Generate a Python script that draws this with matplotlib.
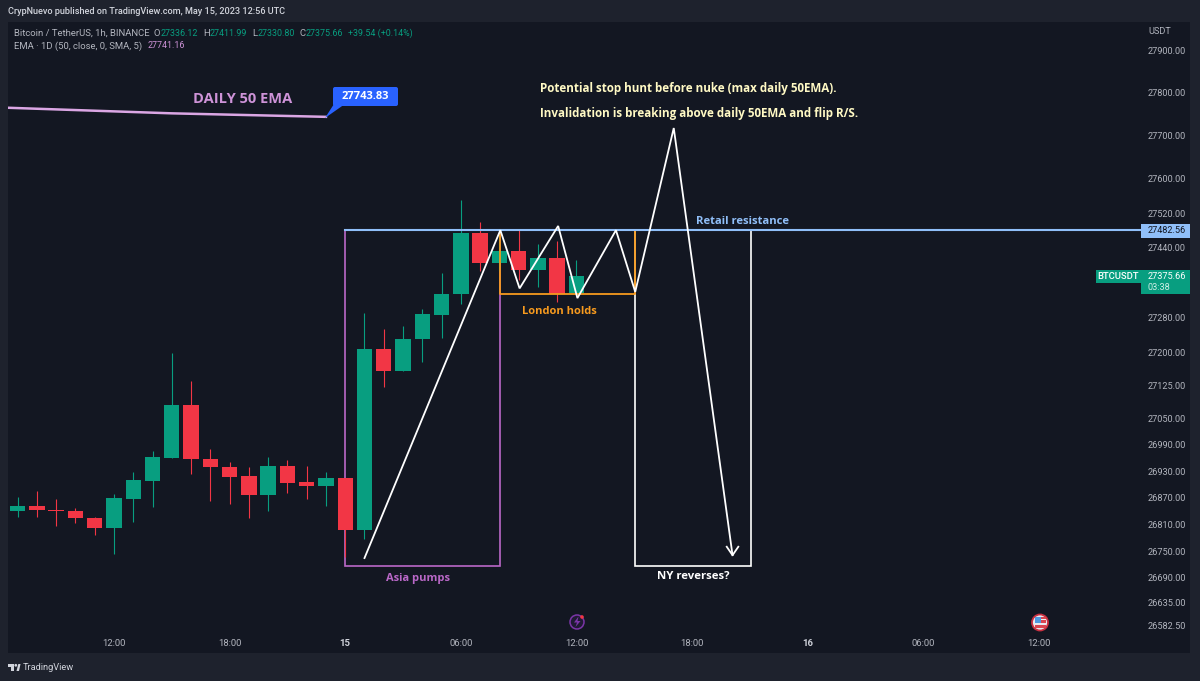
import matplotlib
matplotlib.use("Agg")
import matplotlib.pyplot as plt
from matplotlib.patches import Rectangle, Polygon, Circle, Wedge, FancyBboxPatch
from matplotlib.transforms import Affine2D
from matplotlib.ticker import NullLocator

# --- data (hour since May 14 00:00, prices) ---
hours = list(range(7, 37))
opens = [26840, 26852, 26842.6, 26840, 26824.4, 26802.5, 26868, 26909, 26961, 27081,
         26958, 26940, 26919, 26876, 26941, 26905, 26898, 26916, 26797, 27207,
         27159, 27230, 27286, 27334, 27475, 27406, 27434, 27389, 27417, 27336.12]
closes = [26852.4, 26842, 26839.6, 26824, 26802.5, 26870, 26911, 26962, 27081, 26957,
          26939, 26917.5, 26876, 26941, 26903, 26898, 26916, 26797, 27207, 27159,
          27231, 27288, 27335, 27475, 27406, 27434, 27389, 27417, 27334, 27375.66]
highs = [26873, 26886, 26867, 26848, 26827.5, 26878, 26929, 26976.5, 27198, 27135,
         26980, 26952, 26939, 26961.4, 26956, 26943, 26928, 26916, 27290, 27253,
         27261, 27299, 27382, 27551, 27499, 27475, 27483, 27450, 27455, 27411.99]
lows = [26826, 26827.5, 26807, 26813, 26787, 26743, 26816, 26849, 26961, 26924,
        26864, 26855.5, 26825, 26840, 26880, 26868, 26852, 26737, 26777, 27121,
        27159, 27179, 27234, 27312, 27386, 27386, 27367, 27350, 27315, 27330.80]

ema_hours = [6.5, 15, 23]
ema_values = [27765, 27752, 27743.83]

resistance = 27482.56
box_low = 26716.6
london_low = 27334.6
asia_hours = [24, 32.05]
london_hours = [32.05, 39.05]
ny_hours = [39.05, 45.05]

path_hours = [25, 32.05, 33.05, 35.05, 36.05, 38.05, 39.05, 41.05, 44.1]
path_prices = [26734.6, 27481, 27347, 27490.7, 27324.7, 27481, 27339, 27717.8, 26741]
head_hours = [43.8, 44.1, 44.4]
head_prices = [26760, 26741, 26760]

price_ticks = [27900, 27800, 27700, 27600, 27520, 27440, 27280, 27200, 27125,
               27050, 26990, 26930, 26870, 26810, 26750, 26690, 26635, 26582.5]
time_ticks = [12, 18, 24, 30, 36, 42, 48, 54, 60]
time_labels = ["12:00", "18:00", "15", "06:00", "12:00", "18:00", "16", "06:00", "12:00"]

# --- style ---
W, H = 1200, 681
OUTER = "#1e222d"
PANE = "#131722"
GREEN = "#089e80"
RED = "#f23645"
BLUE = "#90bff9"
PURPLE = "#ba68c8"
ORANGE = "#f79a1e"
GRAY = "#b2b5be"
LIGHT = "#d1d4dc"
SMALL = "Roboto"
plt.rcParams["font.family"] = ["Open Sans", "DejaVu Sans"]

fig = plt.figure(figsize=(12, 6.81), dpi=100, facecolor=OUTER)
px = Affine2D().scale(1 / W, -1 / H).translate(0, 1) + fig.transFigure

def label(x, y, s, color=GRAY, size=6.6, ha="left", weight="normal", family=SMALL, **kw):
    return fig.text(x, y, s, transform=px, color=color, fontsize=size, ha=ha,
                    va="center", fontweight=weight, family=family, **kw)

def note(x, y, s, color, size=8.1, ha="center"):
    return label(x, y, s, color, size, ha, "bold", "Open Sans")

# pane background including the price and time scales
fig.add_artist(Rectangle((8, 22), 1182, 631, transform=px, facecolor=PANE, edgecolor="none", zorder=-5))

ax = fig.add_axes([8 / W, 1 - 632 / H, (1142 - 8) / W, (632 - 22) / H])
ax.patch.set_alpha(0)
for s in ax.spines.values():
    s.set_visible(False)
ax.set_yscale("log")
ax.set_xlim(6.5, 65.35)
ax.set_ylim(26569.1, 27965.7)
ax.yaxis.set_minor_locator(NullLocator())
ax.yaxis.tick_right()
ax.set_yticks(price_ticks)
ax.set_yticklabels([f"{p:.2f}" for p in price_ticks], family=SMALL)
ax.set_xticks(time_ticks)
ax.set_xticklabels(time_labels, family=SMALL)
ax.tick_params(axis="y", length=0, pad=4, labelsize=6.6, labelcolor=GRAY)
ax.tick_params(axis="x", length=0, pad=5, labelsize=6.8, labelcolor=GRAY)
for t, s in zip(ax.get_xticklabels(), time_labels):
    if s in ("15", "16"):
        t.set_fontweight("bold")
        t.set_color(LIGHT)

# candles
for h, o, c, hi, lo in zip(hours, opens, closes, highs, lows):
    col = GREEN if c >= o else RED
    ax.vlines(h, lo, hi, color=col, lw=0.8, zorder=3)
    ax.bar(h, abs(c - o), bottom=min(o, c), width=0.8, color=col, linewidth=0, zorder=4)

# session boxes
for hs, col in ((asia_hours, PURPLE), (ny_hours, "white")):
    ax.plot([hs[0], hs[0], hs[1], hs[1]], [resistance, box_low, box_low, resistance],
            color=col, lw=1.2, zorder=2, solid_joinstyle="miter")
ax.plot([london_hours[0], london_hours[0], london_hours[1], london_hours[1]],
        [resistance, london_low, london_low, resistance], color=ORANGE, lw=1.3, zorder=5)
ax.plot([24, 65.35], [resistance, resistance], color=BLUE, lw=1.5, zorder=6)

# scenario path
ax.plot(path_hours, path_prices, color="white", lw=1.3, zorder=7, solid_joinstyle="miter")
ax.plot(head_hours, head_prices, color="white", lw=1.3, zorder=7)

# EMA
ax.plot(ema_hours, ema_values, color="#dba6e4", lw=1.8, zorder=5)

# EMA callout
fig.add_artist(Polygon([(325, 118), (334, 104), (345, 104)], transform=px, facecolor="#2962ff", edgecolor="none"))
fig.add_artist(FancyBboxPatch((335, 89), 61, 15, boxstyle="round,pad=2,rounding_size=2", transform=px,
                              facecolor="#2962ff", edgecolor="none"))
label(365.5, 96.5, "27743.83", "white", 8, "center", "bold", "Open Sans")
label(243, 99, "DAILY 50 EMA", "#ce93d8", 10.5, "center", "bold", "Open Sans")

# annotations
note(540, 88.5, "Potential stop hunt before nuke (max daily 50EMA).", "#fff9c4", 8.4, "left")
note(540, 113.5, "Invalidation is breaking above daily 50EMA and flip R/S.", "#fff9c4", 8.4, "left")
note(743, 221, "Retail resistance", BLUE)
note(418, 578.5, "Asia pumps", PURPLE, 8)
note(559.5, 311, "London holds", ORANGE, 8)
note(693, 576.5, "NY reverses?", "white", 8.2)

# header and legend
label(8, 12, "CrypNuevo published on TradingView.com, May 15, 2023 12:56 UTC", LIGHT, 6.6, weight="medium")
label(14, 33, "Bitcoin / TetherUS, 1h, BINANCE", GRAY, 6.8)
for x, s in ((154, "O"), (203, "H"), (252, "L"), (300, "C")):
    label(x, 33, s, GRAY, 6.8)
for x, s in ((161, "27336.12"), (209.5, "27411.99"), (258, "27330.80"), (306, "27375.66"),
             (348, "+39.54 (+0.14%)")):
    label(x, 33, s, GREEN, 6.4)
label(14, 46, "EMA · 1D (50, close, 0, SMA, 5)", GRAY, 6.8)
label(148, 46, "27741.16", "#ce93d8", 6.4)
label(1148, 31, "USDT", GRAY, 6.6)

# price tags
fig.add_artist(Rectangle((1141, 224), 49, 13.5, transform=px, facecolor=BLUE, edgecolor="none", zorder=3))
label(1148, 230.5, "27482.56", "#131722", 6.6, zorder=4)
fig.add_artist(Rectangle((1096, 270), 45, 13, transform=px, facecolor=GREEN, edgecolor="none", zorder=3))
label(1118.5, 276.5, "BTCUSDT", "white", 6.8, "center", "medium", zorder=4)
fig.add_artist(Rectangle((1141, 270), 49, 24, transform=px, facecolor=GREEN, edgecolor="none", zorder=3))
label(1148, 276.5, "27375.66", "white", 6.6, zorder=4)
label(1148, 288, "03:38", "#cfeee6", 6.6, zorder=4)

# event icons
fig.add_artist(Circle((577, 622), 7, transform=px, facecolor="#1f1a33", edgecolor="#7b35a8", lw=1.1))
fig.add_artist(Polygon([(578.5, 616.5), (574, 622.5), (577, 622.5), (575.5, 627), (580.5, 621), (577.5, 621)],
                       transform=px, facecolor="#7b35a8", edgecolor="none"))
fig.add_artist(Circle((582, 617), 1.8, transform=px, facecolor=RED, edgecolor="none"))
fig.add_artist(Circle((1040, 622.5), 8, transform=px, facecolor="#e8e8ee", edgecolor="#c92f40", lw=1.3))
fig.add_artist(Wedge((1040, 622.5), 6.5, 0, 180, transform=px, facecolor="#e8e8ee", edgecolor="none"))
fig.add_artist(Rectangle((1034.5, 617), 11.5, 5.5, transform=px, facecolor="#d9454f", edgecolor="none"))
fig.add_artist(Rectangle((1034.5, 619), 11.5, 1.3, transform=px, facecolor="#f0f0f0", edgecolor="none"))
fig.add_artist(Rectangle((1034.5, 616.5), 6, 6, transform=px, facecolor="#4f9ae0", edgecolor="none"))
fig.add_artist(Rectangle((1034.5, 625), 11.5, 2.5, transform=px, facecolor="#d9454f", edgecolor="none"))

# TradingView mark
fig.add_artist(Polygon([(8, 664), (14, 664), (14, 671), (11, 671), (11, 667), (8, 667)],
                       transform=px, facecolor=LIGHT, edgecolor="none"))
fig.add_artist(Circle((15.8, 665.3), 1.4, transform=px, facecolor=LIGHT, edgecolor="none"))
fig.add_artist(Polygon([(16.5, 671), (18.3, 664), (20.5, 664), (19, 671)],
                       transform=px, facecolor=LIGHT, edgecolor="none"))
label(23, 667.5, "TradingView", LIGHT, 6.7)

fig.savefig("out.png", dpi=100, facecolor=fig.get_facecolor())
